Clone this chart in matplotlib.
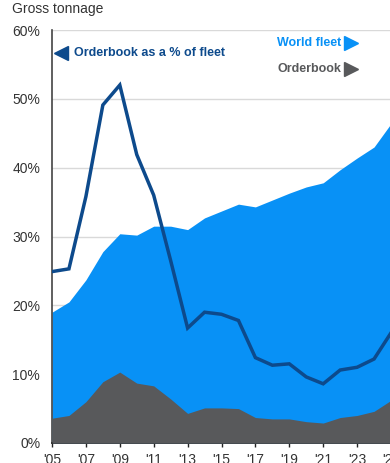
import matplotlib
matplotlib.use("Agg")
import matplotlib.pyplot as plt
from matplotlib.ticker import FuncFormatter

plt.rcParams['font.family'] = ['Liberation Sans', 'DejaVu Sans']

# Yearly series, 2005-2025
years = list(range(2005, 2026))
world_fleet = [19.0, 20.5, 23.7, 27.8, 30.4, 30.2, 31.5, 31.5, 31.0, 32.7, 33.7,
               34.7, 34.3, 35.3, 36.3, 37.2, 37.8, 39.7, 41.4, 43.0, 46.4]
orderbook = [3.6, 4.0, 6.0, 8.9, 10.3, 8.7, 8.3, 6.4, 4.3, 5.1, 5.1,
             5.0, 3.7, 3.5, 3.5, 3.1, 2.9, 3.7, 4.0, 4.6, 6.2]
orderbook_pct = [24.9, 25.3, 35.8, 49.1, 52.0, 41.9, 36.0, 26.5, 16.7, 19.0, 18.7,
                 17.8, 12.4, 11.3, 11.5, 9.6, 8.6, 10.6, 11.0, 12.2, 16.0]

y_ticks = [0, 10, 20, 30, 40, 50, 60]
x_ticks = list(range(2005, 2026, 2))

BLUE = '#0891F6'
GRAY = '#58595B'
NAVY = '#0D4A8C'
TEXT = '#333333'

W, H = 390, 463
fig = plt.figure(figsize=(W / 100, H / 100), dpi=100)
ax = fig.add_axes([52 / W, 20 / H, 339 / W, 413 / H])

ax.fill_between(years, 0, world_fleet, color=BLUE, lw=0, zorder=2)
ax.fill_between(years, 0, orderbook, color=GRAY, lw=0, zorder=3)
ax.plot(years, orderbook_pct, color=NAVY, lw=2.5, solid_joinstyle='miter', zorder=4)

ax.set_xlim(2005, 2025)
ax.set_ylim(0, 60)
ax.set_yticks(y_ticks)
ax.yaxis.set_major_formatter(FuncFormatter(lambda v, _: f"{v:.0f}%"))
ax.set_xticks(x_ticks)
ax.set_xticklabels([f"'{y % 100:02d}" for y in x_ticks])

ax.grid(axis='y', color='#D9D9D9', lw=1, zorder=1)
ax.set_axisbelow(True)
for side in ('top', 'right'):
    ax.spines[side].set_visible(False)
ax.spines['left'].set_color('#444444')
ax.spines['bottom'].set_color('#222222')
ax.spines['left'].set_linewidth(1.2)
ax.spines['bottom'].set_linewidth(1.2)
ax.tick_params(axis='y', length=0, pad=8.5, labelsize=10, labelcolor=TEXT)
ax.tick_params(axis='x', length=3, width=1, pad=4, labelsize=10,
               labelcolor=TEXT, color='#222222')

fig.text(12 / W, 1 - 9 / H, 'Gross tonnage', fontsize=10, color=TEXT, va='center')

# Series labels with pointer triangles
def ax_xy(px, py):
    return (px - 52) / 339, (443 - py) / 413

ax.plot(*ax_xy(61, 53), marker='<', ms=10, color=NAVY, transform=ax.transAxes,
        clip_on=False, zorder=6)
ax.text(*ax_xy(74, 53), 'Orderbook as a % of fleet', transform=ax.transAxes,
        color=NAVY, fontsize=9, fontweight='bold', va='center', ha='left')

ax.plot(*ax_xy(351, 43), marker='>', ms=10, color=BLUE, transform=ax.transAxes,
        clip_on=False, zorder=6)
ax.text(*ax_xy(341, 43), 'World fleet', transform=ax.transAxes,
        color=BLUE, fontsize=9, fontweight='bold', va='center', ha='right')

ax.plot(*ax_xy(351, 69), marker='>', ms=10, color=GRAY, transform=ax.transAxes,
        clip_on=False, zorder=6)
ax.text(*ax_xy(341, 69), 'Orderbook', transform=ax.transAxes,
        color=GRAY, fontsize=9, fontweight='bold', va='center', ha='right')

fig.savefig('out.png', dpi=100)
